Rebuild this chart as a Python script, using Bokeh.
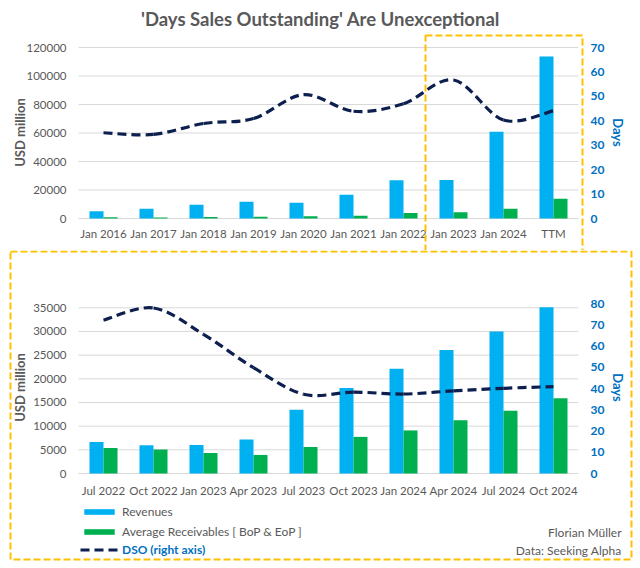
import math
from bokeh.plotting import figure
from bokeh.models import (Range1d, LinearAxis, FixedTicker, NumeralTickFormatter,
                          Legend, LegendItem, Label, BoxAnnotation, ColumnDataSource)
from bokeh.transform import dodge
from bokeh.layouts import column
from bokeh.embed import file_html
from bokeh.resources import INLINE

TITLE = "'Days Sales Outstanding' Are Unexceptional"

annual_labels = ["Jan 2016", "Jan 2017", "Jan 2018", "Jan 2019", "Jan 2020",
                 "Jan 2021", "Jan 2022", "Jan 2023", "Jan 2024", "TTM"]
annual_revenues = [5100, 6800, 9700, 11800, 11000, 16700, 26800, 27000, 60900, 113600]
annual_receivables = [800, 700, 1100, 1200, 1600, 1900, 3800, 4400, 6800, 13900]
annual_dso = [35.1, 34.4, 38.9, 40.9, 50.7, 43.9, 47.0, 56.7, 40.3, 44.1]
annual_usd_ticks = [0, 20000, 40000, 60000, 80000, 100000, 120000]
annual_day_ticks = [0, 10, 20, 30, 40, 50, 60, 70]

quarter_labels = ["Jul 2022", "Oct 2022", "Jan 2023", "Apr 2023", "Jul 2023",
                  "Oct 2023", "Jan 2024", "Apr 2024", "Jul 2024", "Oct 2024"]
quarter_revenues = [6660, 5970, 6030, 7180, 13450, 18080, 22120, 26080, 30020, 35100]
quarter_receivables = [5400, 5050, 4340, 3920, 5600, 7740, 9100, 11250, 13260, 15900]
quarter_dso = [72.2, 77.9, 65.5, 49.8, 37.3, 38.3, 37.4, 38.9, 40.1, 40.9]
quarter_usd_ticks = [0, 5000, 10000, 15000, 20000, 25000, 30000, 35000]
quarter_day_ticks = [0, 10, 20, 30, 40, 50, 60, 70, 80]

FONT = "Lato"
GRAY = "#595959"
BLUE_TXT = "#0070C0"
REV_COLOR = "#00B0F0"
REC_COLOR = "#00B050"
DSO_COLOR = "#0D1F4F"
BOX_COLOR = "#FFC000"
W = 640
TOP_H = 250
BOT_H = 318


def smooth(xs, ys):
    n = len(xs)
    out = dict(x0=[], y0=[], x1=[], y1=[], cx0=[], cy0=[], cx1=[], cy1=[])
    for i in range(n - 1):
        a = max(i - 1, 0)
        b = min(i + 2, n - 1)
        out["x0"].append(xs[i]); out["y0"].append(ys[i])
        out["x1"].append(xs[i + 1]); out["y1"].append(ys[i + 1])
        out["cx0"].append(xs[i] + (xs[i + 1] - xs[a]) / 6)
        out["cy0"].append(ys[i] + (ys[i + 1] - ys[a]) / 6)
        out["cx1"].append(xs[i + 1] - (xs[b] - xs[i]) / 6)
        out["cy1"].append(ys[i + 1] - (ys[b] - ys[i]) / 6)
    return out


def span_range(vmax, px_zero, px_max, height):
    """Range whose 0 sits at canvas y px_zero and vmax at canvas y px_max."""
    per = (px_zero - px_max) / vmax
    return Range1d(-(height - px_zero) / per, px_zero / per)


def side_label(p, text, x, y, angle, color):
    p.add_layout(Label(x=x, y=y, x_units="screen", y_units="screen", text=text,
                       angle=angle, text_align="center", text_baseline="middle",
                       text_font=FONT, text_font_size="13px", text_font_style="bold",
                       text_color=color))


def plain_axis(ax):
    ax.axis_line_color = None
    ax.major_tick_line_color = None
    ax.minor_tick_line_color = None
    ax.major_tick_out = 0
    ax.major_tick_in = 0
    ax.minor_tick_out = 0
    ax.minor_tick_in = 0


def make_chart(labels, revenues, receivables, dso, usd_ticks, day_ticks,
               height, px_zero, px_usd, px_day, xstandoff, label_y):
    n = len(labels)
    idx = list(range(n))
    # category i centred at canvas x = 103 + 50 i
    x_range = Range1d(-103 / 50, (W - 103) / 50)
    p = figure(width=W, height=height, output_backend="svg", toolbar_location=None,
               x_range=x_range, y_range=span_range(usd_ticks[-1], px_zero, px_usd, height),
               min_border=0, min_border_left=0, min_border_right=0,
               min_border_top=0, min_border_bottom=0)
    p.title.visible = False
    p.outline_line_color = None
    p.background_fill_color = "white"
    p.border_fill_color = "white"
    p.xgrid.visible = False
    p.ygrid.visible = False

    # horizontal gridlines across the plot area
    p.segment(x0=-0.5, x1=n - 0.5, y0=usd_ticks, y1=usd_ticks,
              line_color="#D9D9D9", line_width=1)

    xax = p.xaxis[0]
    xax.ticker = FixedTicker(ticks=idx)
    xax.major_label_overrides = {i: lab for i, lab in zip(idx, labels)}
    xax.fixed_location = 0
    xax.major_label_standoff = xstandoff

    yax = p.yaxis[0]
    yax.ticker = FixedTicker(ticks=usd_ticks)
    yax.formatter = NumeralTickFormatter(format="0")
    yax.fixed_location = -0.5
    yax.bounds = (usd_ticks[0], usd_ticks[-1])
    yax.major_label_standoff = 12

    for ax in (xax, yax):
        plain_axis(ax)
        ax.major_label_text_font = FONT
        ax.major_label_text_font_size = "11.5px"
        ax.major_label_text_color = GRAY

    p.extra_y_ranges = {"days": span_range(day_ticks[-1], px_zero, px_day, height)}
    rax = LinearAxis(y_range_name="days", ticker=FixedTicker(ticks=day_ticks),
                     fixed_location=n - 0.5, bounds=(day_ticks[0], day_ticks[-1]))
    plain_axis(rax)
    rax.major_label_text_font = FONT
    rax.major_label_text_font_size = "12px"
    rax.major_label_text_font_style = "bold"
    rax.major_label_text_color = BLUE_TXT
    rax.major_label_standoff = 12
    p.add_layout(rax, "right")

    # axis titles (frame covers the whole canvas, so they are placed in screen units)
    side_label(p, "USD million", 19, height - label_y, math.pi / 2, GRAY)
    side_label(p, "Days", 617, height - label_y, -math.pi / 2, BLUE_TXT)

    src = ColumnDataSource(dict(x=idx, rev=revenues, rec=receivables))
    r_rev = p.vbar(x=dodge("x", -0.14, range=p.x_range), top="rev", width=0.28,
                   source=src, fill_color=REV_COLOR, line_color=None)
    r_rec = p.vbar(x=dodge("x", 0.14, range=p.x_range), top="rec", width=0.28,
                   source=src, fill_color=REC_COLOR, line_color=None)
    seg = ColumnDataSource(smooth(idx, dso))
    r_dso = p.bezier(x0="x0", y0="y0", x1="x1", y1="y1", cx0="cx0", cy0="cy0",
                     cx1="cx1", cy1="cy1", source=seg, y_range_name="days",
                     line_color=DSO_COLOR, line_width=3.2, line_dash="9 5")
    return p, r_rev, r_rec, r_dso


top, _, _, _ = make_chart(annual_labels, annual_revenues, annual_receivables, annual_dso,
                          annual_usd_ticks, annual_day_ticks,
                          TOP_H, 218, 47, 47, 8, 132)
bottom, b_rev, b_rec, b_dso = make_chart(quarter_labels, quarter_revenues,
                                         quarter_receivables, quarter_dso,
                                         quarter_usd_ticks, quarter_day_ticks,
                                         BOT_H, 223, 57.3, 53, 10, 137)

# title
top.add_layout(Label(x=320, y=TOP_H - 18, x_units="screen", y_units="screen", text=TITLE,
                     text_align="center", text_baseline="middle", text_font=FONT,
                     text_font_size="18.5px", text_font_style="bold", text_color=GRAY))

# highlight boxes
box_style = dict(left_units="canvas", right_units="canvas", top_units="canvas",
                 bottom_units="canvas", fill_alpha=0, line_color=BOX_COLOR,
                 line_alpha=1.0, line_width=2, line_dash="7 3", level="overlay")
top.add_layout(BoxAnnotation(left=425, right=582, top=35, bottom=TOP_H + 6, **box_style))
bottom.add_layout(BoxAnnotation(left=10, right=631, top=1, bottom=309, **box_style))


def style_legend(lg):
    lg.border_line_color = None
    lg.background_fill_alpha = 0
    lg.padding = 0
    lg.margin = 0
    lg.spacing = 5
    lg.glyph_width = 38
    lg.glyph_height = 7
    lg.label_height = 14
    lg.label_standoff = 4
    lg.label_text_font = FONT
    lg.label_text_font_size = "12px"


lg1 = Legend(items=[LegendItem(label="Revenues", renderers=[b_rev]),
                    LegendItem(label="Average Receivables [ BoP & EoP ]", renderers=[b_rec])],
             location=(80, 29))
style_legend(lg1)
lg1.label_text_color = GRAY
bottom.add_layout(lg1)

lg2 = Legend(items=[LegendItem(label="DSO (right axis)", renderers=[b_dso])],
             location=(80, 11))
style_legend(lg2)
lg2.label_text_color = BLUE_TXT
lg2.label_text_font_style = "bold"
bottom.add_layout(lg2)

for txt, yy in (("Florian Müller", 36), ("Data: Seeking Alpha", 18)):
    bottom.add_layout(Label(x=621, y=yy, x_units="screen", y_units="screen", text=txt,
                            text_align="right", text_baseline="middle", text_font=FONT,
                            text_font_size="12px", text_color=GRAY))

layout = column(top, bottom, spacing=0)
open("out.html", "w").write(file_html(layout, INLINE))
